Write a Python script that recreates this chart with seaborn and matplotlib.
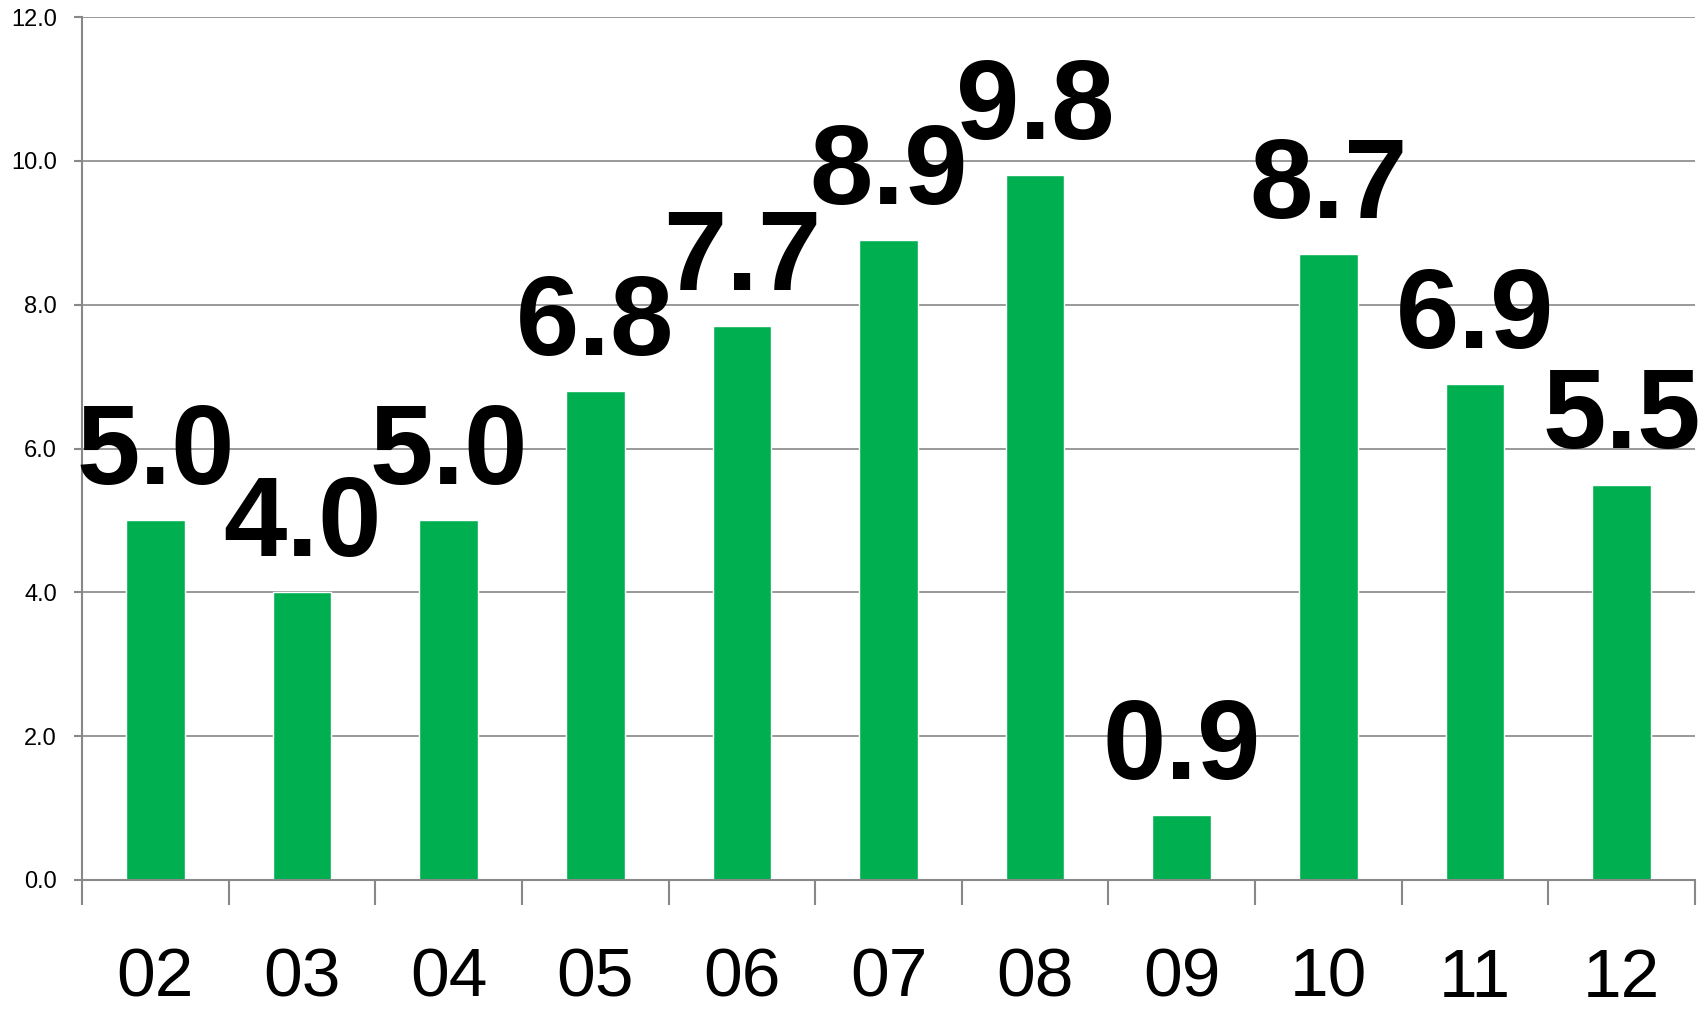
import seaborn as sns
import matplotlib.pyplot as plt
from matplotlib.ticker import FixedLocator, FormatStrFormatter

months = ["02", "03", "04", "05", "06", "07", "08", "09", "10", "11", "12"]
values = [5.0, 4.0, 5.0, 6.8, 7.7, 8.9, 9.8, 0.9, 8.7, 6.9, 5.5]
y_ticks = [0, 2, 4, 6, 8, 10, 12]

sns.set_style("white")
plt.rcParams["font.family"] = ["Liberation Sans", "DejaVu Sans"]
plt.rcParams["text.color"] = "black"
plt.rcParams["xtick.color"] = "black"
plt.rcParams["ytick.color"] = "black"

grey = "#888888"

fig = plt.figure(figsize=(17.08, 10.11), dpi=100)
ax = fig.add_axes([0.048, 0.1296, 0.9444, 0.8534])

sns.barplot(x=months, y=values, color="#00B050", saturation=1, width=0.4, ax=ax, zorder=2)

ax.set_ylim(0, 12)
ax.set_xlim(-0.5, len(months) - 0.5)
ax.set_yticks(y_ticks)
ax.yaxis.set_major_formatter(FormatStrFormatter("%.1f"))
ax.grid(axis="y", color=grey, linewidth=1.2, zorder=0)
ax.set_axisbelow(True)

for side in ["top", "right"]:
    ax.spines[side].set_visible(False)
for side in ["left", "bottom"]:
    ax.spines[side].set_color(grey)
    ax.spines[side].set_linewidth(1.5)

# category separators below the axis
ax.xaxis.set_minor_locator(FixedLocator([i - 0.5 for i in range(len(months) + 1)]))
ax.tick_params(axis="x", which="both", bottom=True)
ax.tick_params(axis="x", which="minor", length=18, width=1.5, color=grey)
ax.tick_params(axis="x", which="major", length=0, labelsize=50, pad=48, labelcolor="black")
ax.tick_params(axis="y", which="major", left=True, length=6, width=1.5, color=grey,
               labelsize=17, pad=12, labelcolor="black")

ax.set_xlabel("")
ax.set_ylabel("")

# value labels
for i, v in enumerate(values):
    ax.annotate(f"{v:.1f}", (i, v), xytext=(0, 26), textcoords="offset points",
                ha="center", va="baseline", fontsize=82, fontweight="bold",
                color="black", zorder=3)

plt.savefig("out.png", dpi=100)
plt.close()
